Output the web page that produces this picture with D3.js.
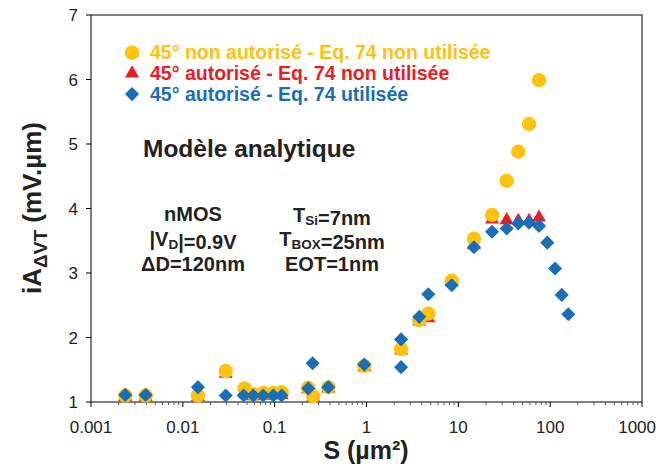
<!DOCTYPE html>
<html><head><meta charset="utf-8">
<script src="https://cdn.jsdelivr.net/npm/d3@7"></script>
<style>body{margin:0;background:#fff}text{font-family:"Liberation Sans",Arial,sans-serif}</style>
</head><body><svg id="c" width="658" height="467"></svg>
<script>
const xTicks=[0.001,0.01,0.1,1,10,100,1000];
const xTickLabels=["0.001","0.01","0.1","1","10","100","1000"];
const yTicks=[1,2,3,4,5,6,7];
const seriesNames=["45° non autorisé - Eq. 74 non utilisée","45° autorisé - Eq. 74 non utilisée","45° autorisé - Eq. 74 utilisée"];
const seriesColors=["#FFC20E","#ED1C24","#1A6DB7"];
const circleS=[0.00236,0.00394,0.0146,0.0293,0.047,0.0585,0.076,0.0966,0.119,0.232,0.263,0.384,0.946,2.38,3.76,4.71,8.47,14.8,23.3,33.6,45,58.9,75.6];
const circleV=[1.10,1.10,1.10,1.48,1.21,1.12,1.14,1.14,1.15,1.22,1.09,1.23,1.56,1.82,2.27,2.37,2.88,3.53,3.90,4.43,4.88,5.31,5.99];
const triangleS=[0.00236,0.00394,0.0146,0.0293,0.047,0.0585,0.076,0.0966,0.119,0.232,0.263,0.384,0.946,2.38,3.76,4.71,8.47,14.8,23.3,33.6,45,58.9,75.6];
const triangleV=[1.08,1.08,1.08,1.44,1.17,1.09,1.10,1.10,1.11,1.20,1.07,1.21,1.54,1.80,2.25,2.30,2.87,3.43,3.83,3.82,3.81,3.81,3.86];
const diamondS=[0.00236,0.00394,0.0146,0.0293,0.046,0.0585,0.075,0.0966,0.119,0.232,0.259,0.384,0.946,2.38,2.38,3.76,4.71,8.47,14.8,23.3,33.6,45,58.9,75.6,93,113,133.6,157.7];
const diamondV=[1.11,1.11,1.23,1.10,1.10,1.10,1.10,1.10,1.10,1.21,1.60,1.23,1.58,1.97,1.54,2.32,2.67,2.81,3.40,3.64,3.69,3.77,3.78,3.73,3.47,3.07,2.66,2.36];

const svg=d3.select("#c");
const L=91,R=642,T=15,B=402;
const x=d3.scaleLog().domain([0.001,1000]).range([L,R]);
const y=d3.scaleLinear().domain([1,7]).range([B,T]);

svg.append("rect").attr("x",L).attr("y",T).attr("width",R-L).attr("height",B-T)
  .attr("fill","none").attr("stroke","#000").attr("stroke-width",1);

const minor=[];
for(let e=-3;e<3;e++){for(let k=2;k<10;k++)minor.push(k*Math.pow(10,e));}
const xa=svg.append("g").attr("transform",`translate(0,${B})`);
xa.selectAll("line.mi").data(minor).join("line").attr("class","mi")
  .attr("x1",d=>x(d)).attr("x2",d=>x(d)).attr("y1",0).attr("y2",3).attr("stroke","#555");
xa.selectAll("line.ma").data(xTicks).join("line").attr("class","ma")
  .attr("x1",d=>x(d)).attr("x2",d=>x(d)).attr("y1",0).attr("y2",5).attr("stroke","#000");
xa.selectAll("text").data(xTicks).join("text")
  .attr("x",(d,i)=>i===xTicks.length-1?656:x(d)).attr("y",31)
  .attr("text-anchor",(d,i)=>i===xTicks.length-1?"end":"middle")
  .attr("font-size",17).attr("fill","#222").text((d,i)=>xTickLabels[i]);

const ya=svg.append("g");
ya.selectAll("line").data(yTicks).join("line")
  .attr("x1",L-5).attr("x2",L).attr("y1",d=>y(d)).attr("y2",d=>y(d)).attr("stroke","#000");
ya.selectAll("text").data(yTicks).join("text")
  .attr("x",L-13).attr("y",d=>y(d)+6).attr("text-anchor","end")
  .attr("font-size",17).attr("fill","#222").text(d=>d);

svg.append("text").attr("x",366).attr("y",459).attr("text-anchor","middle")
  .attr("font-size",25).attr("font-weight","bold").attr("fill","#222").text("S (µm²)");
const yt=svg.append("text").attr("transform","translate(41,208) rotate(-90)").attr("text-anchor","middle")
  .attr("font-size",26).attr("font-weight","bold").attr("fill","#222");
yt.append("tspan").text("iA");
yt.append("tspan").attr("font-size",19).attr("dy",6).text("ΔVT");
yt.append("tspan").attr("dy",-6).text(" (mV.µm)");

const circ=d3.symbol(d3.symbolCircle,163)();
const tri=d3.symbol(d3.symbolTriangle,85)();
const dia=d3.symbol(d3.symbolSquare,100)();
const g=svg.append("g");
g.selectAll("path.t").data(triangleS).join("path").attr("class","t").attr("d",tri)
  .attr("transform",(d,i)=>`translate(${x(d)},${y(triangleV[i])})`).attr("fill",seriesColors[1]);
g.selectAll("path.c").data(circleS).join("path").attr("class","c").attr("d",circ)
  .attr("transform",(d,i)=>`translate(${x(d)},${y(circleV[i])})`).attr("fill",seriesColors[0]);
g.selectAll("path.d").data(diamondS).join("path").attr("class","d").attr("d",dia)
  .attr("transform",(d,i)=>`translate(${x(d)},${y(diamondV[i])}) rotate(45)`).attr("fill",seriesColors[2]);

const shapes=[circ,tri,dia];
seriesNames.forEach((n,i)=>{
  const cy=52.7+i*20.7;
  svg.append("path").attr("d",shapes[i]).attr("fill",seriesColors[i])
    .attr("transform",`translate(132,${cy})`+(i==2?" rotate(45)":""));
  svg.append("text").attr("x",150).attr("y",cy+6.5).attr("font-size",19.5).attr("font-weight","bold")
    .attr("fill",seriesColors[i]).text(n);
});

svg.append("text").attr("x",143).attr("y",157).attr("font-size",24.5).attr("font-weight","bold").attr("fill","#222").text("Modèle analytique");

function line(cx,cy,parts){
  const t=svg.append("text").attr("x",cx).attr("y",cy).attr("text-anchor","middle")
    .attr("font-size",20).attr("font-weight","bold").attr("fill","#222");
  parts.forEach(p=>{
    if(p.sub){t.append("tspan").attr("font-size",13.5).attr("dy",3).text(p.sub);
      t.append("tspan").attr("dy",-3).text("");}
    else t.append("tspan").text(p.t);
  });
}
line(193,221,[{t:"nMOS"}]);
line(193,246,[{t:"|V"},{sub:"D"},{t:"|=0.9V"}]);
line(193,271,[{t:"ΔD=120nm"}]);
line(332,221.5,[{t:"T"},{sub:"Si"},{t:"=7nm"}]);
line(332,246,[{t:"T"},{sub:"BOX"},{t:"=25nm"}]);
line(332,271,[{t:"EOT=1nm"}]);
</script></body></html>
